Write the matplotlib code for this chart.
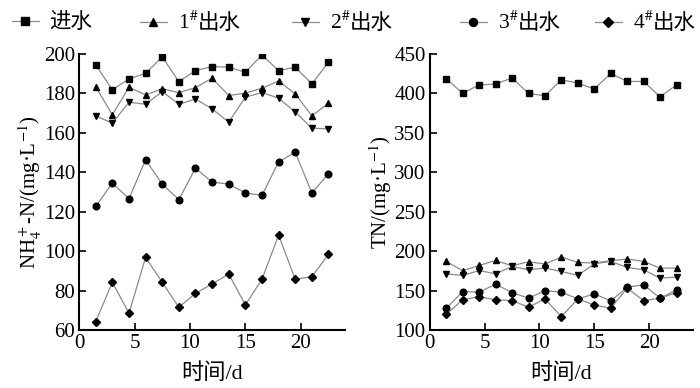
import matplotlib.pyplot as plt
from matplotlib.offsetbox import HPacker, TextArea

plt.rcParams['font.family'] = ['Liberation Serif', 'Noto Sans CJK SC']
plt.rcParams['mathtext.fontset'] = 'stix'

# === DATA ===
days = [1.5, 3, 4.5, 6, 7.5, 9, 10.5, 12, 13.5, 15, 16.5, 18, 19.5, 21, 22.5]
prefixes = ['', '1$^{\\#}$', '2$^{\\#}$', '3$^{\\#}$', '4$^{\\#}$']
names = ['进水', '出水', '出水', '出水', '出水']
markers = ['s', '^', 'v', 'o', 'D']

nh4_in = [194.4, 181.8, 187.3, 190.2, 198.5, 186.0, 191.5, 193.6, 193.3, 190.7, 199.5, 191.5, 193.3, 184.8, 195.8]
nh4_r1 = [183.4, 169.1, 183.1, 179.2, 182.3, 180.4, 182.9, 187.7, 178.9, 180.1, 182.6, 186.3, 179.7, 168.6, 175.0]
nh4_r2 = [168.6, 164.9, 175.5, 174.5, 180.9, 174.5, 177.1, 172.2, 165.4, 178.1, 180.4, 177.6, 170.5, 162.4, 162.0]
nh4_r3 = [122.7, 134.5, 126.6, 146.3, 134.0, 126.1, 142.1, 135.0, 134.0, 129.5, 128.3, 145.2, 150.2, 129.5, 139.2]
nh4_r4 = [64.2, 84.2, 68.5, 96.8, 84.2, 71.5, 78.6, 83.3, 88.4, 72.7, 85.7, 108.1, 85.7, 87.0, 98.3]

tn_in = [418.6, 400.0, 410.8, 411.7, 419.6, 400.0, 396.9, 417.3, 413.0, 405.6, 425.2, 415.1, 415.1, 395.6, 410.8]
tn_r1 = [186.9, 175.1, 181.8, 188.2, 181.4, 186.5, 183.6, 192.5, 185.6, 184.9, 187.8, 190.0, 186.9, 178.5, 178.5]
tn_r2 = [171.2, 169.1, 175.4, 171.2, 180.5, 176.3, 178.5, 174.2, 169.1, 184.0, 186.9, 179.3, 176.3, 165.8, 167.0]
tn_r3 = [127.6, 148.7, 148.0, 158.1, 147.5, 140.3, 150.0, 148.0, 139.4, 145.8, 136.9, 154.3, 157.3, 140.3, 150.9]
tn_r4 = [120.0, 138.2, 142.4, 138.2, 137.3, 128.9, 139.4, 116.9, 139.4, 131.8, 127.6, 153.0, 137.3, 140.3, 147.5]

fig = plt.figure(figsize=(7, 3.88), dpi=100)
ax1 = fig.add_axes([0.113, 0.1495, 0.380, 0.7115])
ax2 = fig.add_axes([0.614, 0.1495, 0.376, 0.7115])


def draw(ax, series):
    handles = []
    for vals, m in zip(series, markers):
        ms = 4.3 if m == 'D' else 4.8
        h, = ax.plot(days, vals, color='#8a8a8a', lw=0.9, marker=m, ms=ms,
                     mfc='black', mec='black')
        handles.append(h)
    ax.spines['top'].set_visible(False)
    ax.spines['right'].set_visible(False)
    ax.spines['left'].set_linewidth(1.5)
    ax.spines['bottom'].set_linewidth(1.5)
    ax.tick_params(direction='in', length=5, width=1.2, labelsize=15, pad=3)
    ax.set_xlim(0, 24)
    ax.set_xticks([0, 5, 10, 15, 20])
    ax.set_xlabel('时间/d', fontsize=16, labelpad=7)
    return handles


handles = draw(ax1, [nh4_in, nh4_r1, nh4_r2, nh4_r3, nh4_r4])
ax1.set_ylim(60, 200)
ax1.set_yticks(range(60, 201, 20))
ax1.set_ylabel('NH$_4^+$-N/(mg·L$^{-1}$)', fontsize=15, labelpad=0)

draw(ax2, [tn_in, tn_r1, tn_r2, tn_r3, tn_r4])
ax2.set_ylim(100, 450)
ax2.set_yticks(range(100, 451, 50))
ax2.set_ylabel('TN/(mg·L$^{-1}$)', fontsize=15, labelpad=0)

# legend entries placed one by one along the top (pixel x of each handle)
# mathtext can't do CJK, so "1#" and "出水" go in two packed text areas
leg_x = [12, 140, 292, 460, 595]
for h, pre_txt, name, x in zip(handles, prefixes, names, leg_x):
    leg = fig.legend(handles=[h], labels=[name], loc='center left',
                     bbox_to_anchor=(x / 700, 1 - 23 / 388), frameon=False,
                     fontsize=15.5, handlelength=1.25, handletextpad=0.5,
                     borderpad=0, borderaxespad=0, markerscale=1.2)
    if pre_txt:
        row = leg._legend_handle_box.get_children()[0].get_children()[0]
        kids = row.get_children()
        pre = TextArea(pre_txt, textprops=dict(fontsize=15.5))
        box = HPacker(children=[pre, kids[1]], sep=0, pad=0, align='baseline')
        box.set_figure(fig)
        kids[1] = box

plt.savefig('out.png', dpi=100)
